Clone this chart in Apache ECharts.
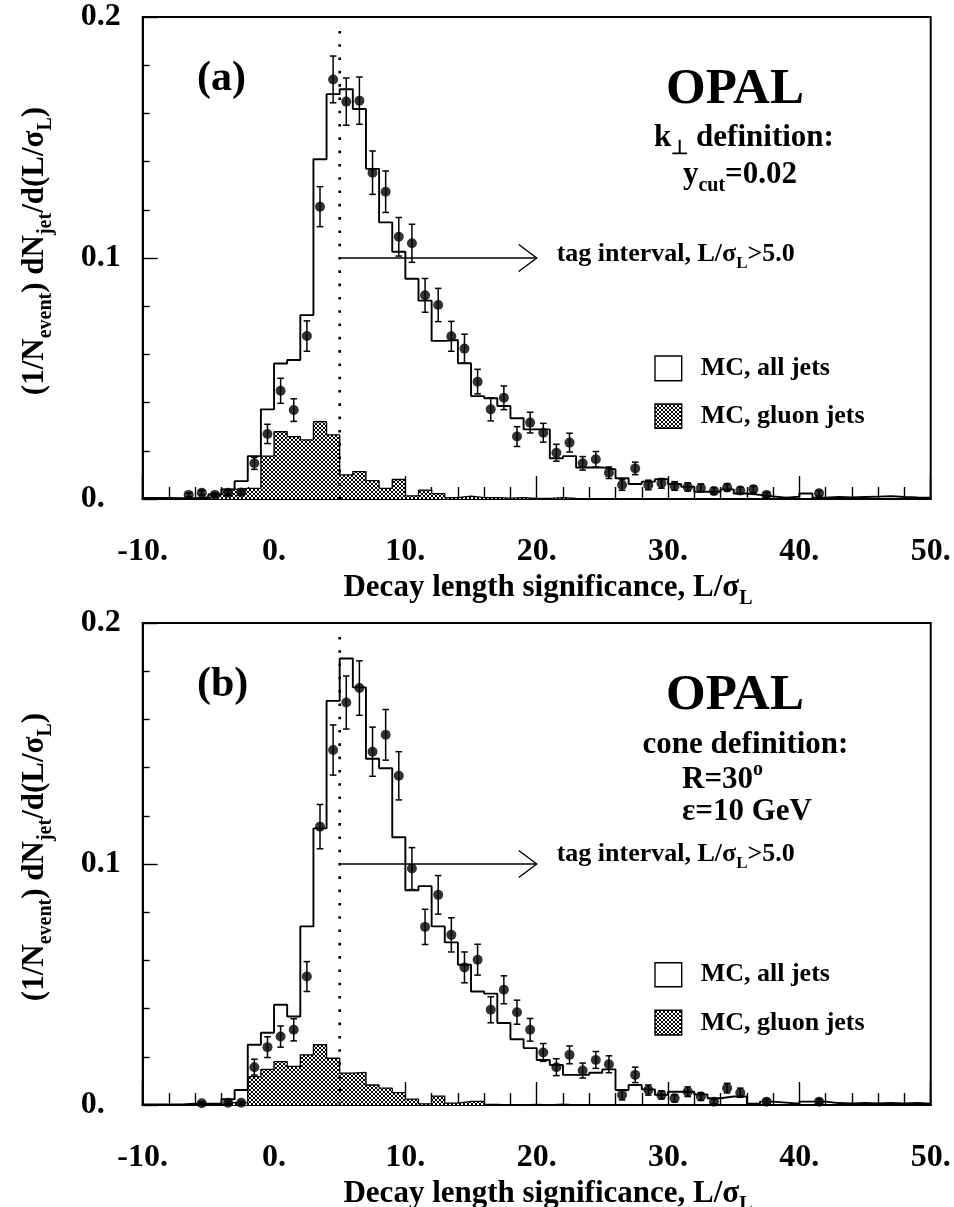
<!DOCTYPE html>
<html><head><meta charset="utf-8">
<script src="https://cdn.jsdelivr.net/npm/echarts@6/dist/echarts.min.js"></script>
<style>html,body{margin:0;padding:0;background:#fff}#c{width:954px;height:1207px}</style>
</head><body><div id="c"></div>
<script>
// ---------------- data ----------------
const binEdges = [-10,-9,-8,-7,-6,-5,-4,-3,-2,-1,0,1,2,3,4,5,6,7,8,9,10,11,12,13,14,15,16,17,18,19,20,
  21,22,23,24,25,26,27,28,29,30,31,32,33,34,35,36,37,38,39,40,41,42,43,44,45,46,47,48,49,50];
const xTickLabels = ['-10.','0.','10.','20.','30.','40.','50.'];
const yTickLabels = ['0.','0.1','0.2'];
const tagCut = 5.0;
const tagArrowEnd = 20;
const tagArrowLevel = 0.1;
const cutLineTop = 0.197;

// panel (a): kT definition
const mcAllA = [0.0004,0.0004,0.0003,0.0003,0.0008,0.0018,0.0040,0.0074,0.0178,0.0372,
  0.0562,0.0577,0.0763,0.1410,0.1680,0.1700,0.1618,0.1370,0.1148,0.1026,
  0.0914,0.0823,0.0656,0.0660,0.0563,0.0427,0.0418,0.0386,0.0335,0.0289,
  0.0289,0.0169,0.0178,0.0131,0.0131,0.0123,0.0086,0.0062,0.0072,0.0082,
  0.0062,0.0051,0.0030,0.0030,0.0040,0.0023,0.0017,0.0011,0.0005,0.0010,
  0.0023,0.0005,0.0008,0.0006,0.0008,0.0010,0.0012,0.0008,0.0006,0.0005];
const mcGluonA = [0,0,0,0,0.0003,0.0020,0.0040,0.0044,0.0044,0.0178,
  0.0279,0.0259,0.0245,0.0321,0.0266,0.0100,0.0114,0.0076,0.0044,0.0081,
  0.0013,0.0037,0.0022,0.0006,0.0012,0.0006,0.0006,0.0004,0.0006,0.0002,
  0.0003,0.0006,0.0002,0,0,0,0,0,0,0,
  0,0,0,0,0,0,0,0,0,0,
  0,0,0,0,0,0,0,0,0,0];
const dataXA = [-6.5,-5.5,-4.5,-3.5,-2.5,-1.5,-0.5,0.5,1.5,2.5,3.5,4.5,5.5,6.5,7.5,8.5,9.5,10.5,11.5,12.5,
  13.5,14.5,15.5,16.5,17.5,18.5,19.5,20.5,21.5,22.5,23.5,24.5,25.5,26.5,27.5,28.5,29.5,30.5,31.5,32.5,
  33.5,34.5,35.5,36.5,37.5,41.5];
const dataYA = [0.0017,0.0026,0.0017,0.0026,0.0027,0.0148,0.0270,0.0449,0.0369,0.0676,0.1213,0.1741,0.1649,0.1653,0.1354,0.1275,0.1088,0.1061,0.0845,0.0805,
  0.0675,0.0624,0.0487,0.0372,0.0420,0.0259,0.0317,0.0275,0.0192,0.0234,0.0148,0.0165,0.0109,0.0058,0.0127,0.0058,0.0065,0.0054,0.0050,0.0046,
  0.0033,0.0048,0.0035,0.0040,0.0017,0.0024];
const dataErrA = [0.0008,0.0010,0.0008,0.0010,0.0010,0.0025,0.0040,0.0052,0.0047,0.0063,0.0083,0.0097,0.0098,0.0098,0.0090,0.0086,0.0080,0.0079,0.0070,0.0069,
  0.0062,0.0060,0.0051,0.0048,0.0049,0.0041,0.0043,0.0039,0.0035,0.0039,0.0028,0.0032,0.0024,0.0022,0.0026,0.0020,0.0020,0.0018,0.0017,0.0016,
  0.0014,0.0015,0.0014,0.0014,0.0010,0.0011];

// panel (b): cone definition
const mcAllB = [0.0002,0.0002,0.0002,0.0005,0.0005,0.0005,0.0024,0.0062,0.0250,0.0300,
  0.0416,0.0367,0.0741,0.1148,0.1677,0.1853,0.1733,0.1437,0.1397,0.1111,
  0.0891,0.0908,0.0741,0.0675,0.0582,0.0471,0.0462,0.0340,0.0273,0.0236,
  0.0187,0.0166,0.0125,0.0125,0.0134,0.0148,0.0062,0.0083,0.0065,0.0042,
  0.0055,0.0055,0.0044,0.0028,0.0035,0.0035,0.0005,0.0014,0.0010,0.0005,
  0.0014,0.0014,0.0008,0.0006,0.0008,0.0006,0.0008,0.0006,0.0008,0.0005];
const mcGluonB = [0,0,0,0,0,0.0003,0.0010,0.0010,0.0118,0.0148,
  0.0180,0.0160,0.0208,0.0250,0.0194,0.0132,0.0135,0.0083,0.0070,0.0051,
  0.0024,0.0005,0.0037,0.0008,0.0015,0.0015,0.0002,0,0,0.0002,
  0,0.0004,0,0,0,0,0,0,0,0,
  0,0,0,0,0,0,0,0,0,0,
  0,0,0,0,0,0,0,0,0,0];
const dataXB = [-5.5,-3.5,-2.5,-1.5,-0.5,0.5,1.5,2.5,3.5,4.5,5.5,6.5,7.5,8.5,9.5,10.5,11.5,12.5,
  13.5,14.5,15.5,16.5,17.5,18.5,19.5,20.5,21.5,22.5,23.5,24.5,25.5,26.5,27.5,28.5,29.5,30.5,31.5,32.5,
  33.5,34.5,35.5,37.5,41.5];
const dataYB = [0.0007,0.0009,0.0009,0.0157,0.0240,0.0284,0.0312,0.0533,0.1155,0.1473,0.1670,0.1730,0.1466,0.1536,0.1366,0.0981,0.0739,0.0872,
  0.0706,0.0571,0.0603,0.0395,0.0478,0.0385,0.0312,0.0218,0.0157,0.0208,0.0143,0.0187,0.0169,0.0042,0.0125,0.0062,0.0042,0.0028,0.0055,0.0035,
  0.0014,0.0070,0.0051,0.0014,0.0014];
const dataErrB = [0.0006,0.0006,0.0006,0.0033,0.0043,0.0044,0.0046,0.0062,0.0092,0.0104,0.0110,0.0113,0.0102,0.0105,0.0100,0.0087,0.0073,0.0080,
  0.0071,0.0064,0.0064,0.0054,0.0058,0.0050,0.0047,0.0037,0.0035,0.0037,0.0031,0.0035,0.0035,0.0021,0.0032,0.0021,0.0017,0.0015,0.0020,0.0016,
  0.0010,0.0020,0.0019,0.0010,0.0010];

// ---------------- helpers ----------------
const FONT = "'Liberation Serif','Times New Roman',serif";

function hatchCanvas(){
  const c = document.createElement('canvas'); c.width = 4; c.height = 4;
  const g = c.getContext('2d');
  g.fillStyle = '#fff'; g.fillRect(0,0,4,4);
  g.fillStyle = '#000';
  for (let i = 0; i < 4; i++) { g.fillRect(i,i,1,1); g.fillRect(3-i,i,1,1); }
  return c;
}
const HATCH = { image: hatchCanvas(), repeat: 'repeat' };

function stepData(vals){ return binEdges.map((e,i) => [e, vals[Math.min(i, vals.length-1)]]); }
function pts(xs, ys, es){ return xs.map((x,i) => [x, ys[i], es ? es[i] : 0]); }

function errRender(params, api){
  const x = api.value(0), y = api.value(1), e = api.value(2);
  const t = api.coord([x, y + e]), b = api.coord([x, Math.max(0, y - e)]);
  const cap = 3.3, st = {stroke:'#000', lineWidth:1.5};
  return {type:'group', children:[
    {type:'line', shape:{x1:t[0],y1:t[1],x2:b[0],y2:b[1]}, style:st},
    {type:'line', shape:{x1:t[0]-cap,y1:t[1],x2:t[0]+cap,y2:t[1]}, style:st},
    {type:'line', shape:{x1:b[0]-cap,y1:b[1],x2:b[0]+cap,y2:b[1]}, style:st}
  ]};
}
function arrowRender(params, api){
  const p0 = api.coord([api.value(0), api.value(1)]);
  const p1 = api.coord([api.value(2), api.value(1)]);
  const st = {stroke:'#000', lineWidth:1.4, fill:null};
  return {type:'group', children:[
    {type:'line', shape:{x1:p0[0],y1:p0[1],x2:p1[0],y2:p1[1]}, style:st},
    {type:'polyline', shape:{points:[[p1[0]-18,p1[1]-13.5],[p1[0],p1[1]],[p1[0]-18,p1[1]+13.5]]}, style:st}
  ]};
}

function rich(F){
  const f = Math.round(F*0.66);
  const base = {fontWeight:'bold', fontFamily:FONT, fill:'#000'};
  return {
    n: Object.assign({fontSize:F, lineHeight:F}, base),
    s: Object.assign({fontSize:f, lineHeight:f, padding:[Math.round(F*0.72),0,0,0]}, base),
    u: Object.assign({fontSize:f, lineHeight:f, padding:[0,0,Math.round(F*0.6),0]}, base)
  };
}
function T(x, y, parts, F, align, rot){
  return {type:'text', x:x, y:y, rotation: rot || 0, z:100,
    style:{text: parts.map(p => '{' + p[0] + '|' + p[1] + '}').join(''), rich: rich(F),
      align: align || 'left', verticalAlign:'middle', fill:'#000', fontSize:F, fontFamily:FONT, fontWeight:'bold'}};
}
function box(x, y, w, h, fill){
  return {type:'rect', shape:{x:x,y:y,width:w,height:h}, z:100, style:{fill:fill, stroke:'#000', lineWidth:1.4}};
}

// ---------------- axes ----------------
function xAx(gi){
  return {type:'value', gridIndex:gi, min:-10, max:50, interval:10,
    axisLine:{show:true, onZero:false, lineStyle:{color:'#000', width:2}},
    axisTick:{show:true, inside:true, length:23, lineStyle:{color:'#000', width:1.4}},
    minorTick:{show:true, splitNumber:5, length:12, lineStyle:{color:'#000', width:1.4}},
    splitLine:{show:false}, minorSplitLine:{show:false},
    axisLabel:{margin:37, color:'#000', fontSize:32, fontWeight:'bold', fontFamily:FONT,
      formatter: v => xTickLabels[Math.round((v + 10) / 10)]}};
}
function yAx(gi){
  return {type:'value', gridIndex:gi, min:0, max:0.2, interval:0.1,
    axisLine:{show:true, onZero:false, lineStyle:{color:'#000', width:2}},
    axisTick:{show:true, inside:true, length:15, lineStyle:{color:'#000', width:1.4}},
    minorTick:{show:true, splitNumber:5, length:7, lineStyle:{color:'#000', width:1.4}},
    splitLine:{show:false}, minorSplitLine:{show:false},
    axisLabel:{margin:62, align:'left', color:'#000', fontSize:32, fontWeight:'bold', fontFamily:FONT,
      formatter: v => yTickLabels[Math.round(v * 10)]}};
}

function panelSeries(gi, all, gluon, xs, ys, es){
  return [
    {type:'line', xAxisIndex:gi, yAxisIndex:gi, step:'end', symbol:'none', z:2,
      data: stepData(gluon), lineStyle:{color:'#000', width:1.3}, areaStyle:{color:HATCH, opacity:1}},
    {type:'line', xAxisIndex:gi, yAxisIndex:gi, step:'end', symbol:'none', z:3,
      data: stepData(all), lineStyle:{color:'#000', width:1.9}},
    {type:'line', xAxisIndex:gi, yAxisIndex:gi, symbol:'none', z:4,
      data: [[tagCut, 0], [tagCut, cutLineTop]], lineStyle:{color:'#000', width:2.6, type:[2.6, 10.7]}},
    {type:'custom', xAxisIndex:gi, yAxisIndex:gi, z:5, renderItem: arrowRender,
      data: [[tagCut, tagArrowLevel, tagArrowEnd]]},
    {type:'custom', xAxisIndex:gi, yAxisIndex:gi, z:6, renderItem: errRender, data: pts(xs, ys, es)},
    {type:'scatter', xAxisIndex:gi, yAxisIndex:gi, z:7, symbol:'circle', symbolSize:10,
      itemStyle:{color:'#000'}, data: xs.map((x,i) => [x, ys[i]])}
  ];
}

const graphics = [
  // panel (a)
  T(197, 78.7, [['n','(a)']], 42),
  T(735, 89.7, [['n','OPAL']], 51, 'center'),
  T(744, 137.5, [['n','k'],['s','⊥'],['n',' definition:']], 31, 'center'),
  T(740, 174.5, [['n','y'],['s','cut'],['n','=0.02']], 31, 'center'),
  T(556.7, 254.5, [['n','tag interval, L/σ'],['s','L'],['n','>5.0']], 26),
  box(655, 356, 26.7, 24.7, '#fff'),
  box(655, 404, 26.7, 24.3, HATCH),
  T(700.7, 368, [['n','MC, all jets']], 26),
  T(700.7, 416.2, [['n','MC, gluon jets']], 26),
  T(548, 587.5, [['n','Decay length significance, L/σ'],['s','L']], 31, 'center'),
  T(34.5, 251, [['n','(1/N'],['s','event'],['n',') dN'],['s','jet'],['n','/d(L/σ'],['s','L'],['n',')']], 31, 'center', Math.PI/2),
  // panel (b)
  T(197, 684.7, [['n','(b)']], 42),
  T(735, 695.7, [['n','OPAL']], 51, 'center'),
  T(745.5, 744.5, [['n','cone definition:']], 31, 'center'),
  T(682, 779.5, [['n','R=30'],['u','o']], 31),
  T(682, 812.2, [['n','ε=10 GeV']], 31),
  T(556.7, 854.5, [['n','tag interval, L/σ'],['s','L'],['n','>5.0']], 26),
  box(655, 962.7, 26.7, 24, '#fff'),
  box(655, 1010.3, 26.7, 24.7, HATCH),
  T(700.7, 974.5, [['n','MC, all jets']], 26),
  T(700.7, 1022.9, [['n','MC, gluon jets']], 26),
  T(548, 1193.5, [['n','Decay length significance, L/σ'],['s','L']], 31, 'center'),
  T(34.5, 857, [['n','(1/N'],['s','event'],['n',') dN'],['s','jet'],['n','/d(L/σ'],['s','L'],['n',')']], 31, 'center', Math.PI/2)
];

const chart = echarts.init(document.getElementById('c'), null, {renderer:'canvas'});
chart.setOption({
  animation:false,
  backgroundColor:'#fff',
  grid:[
    {left:142.7, top:17, width:788, height:482, show:true, borderColor:'#000', borderWidth:2, backgroundColor:'transparent'},
    {left:142.7, top:623, width:788, height:482, show:true, borderColor:'#000', borderWidth:2, backgroundColor:'transparent'}
  ],
  xAxis:[xAx(0), xAx(1)],
  yAxis:[yAx(0), yAx(1)],
  series: panelSeries(0, mcAllA, mcGluonA, dataXA, dataYA, dataErrA)
    .concat(panelSeries(1, mcAllB, mcGluonB, dataXB, dataYB, dataErrB)),
  graphic: graphics
});
</script>
</body></html>
